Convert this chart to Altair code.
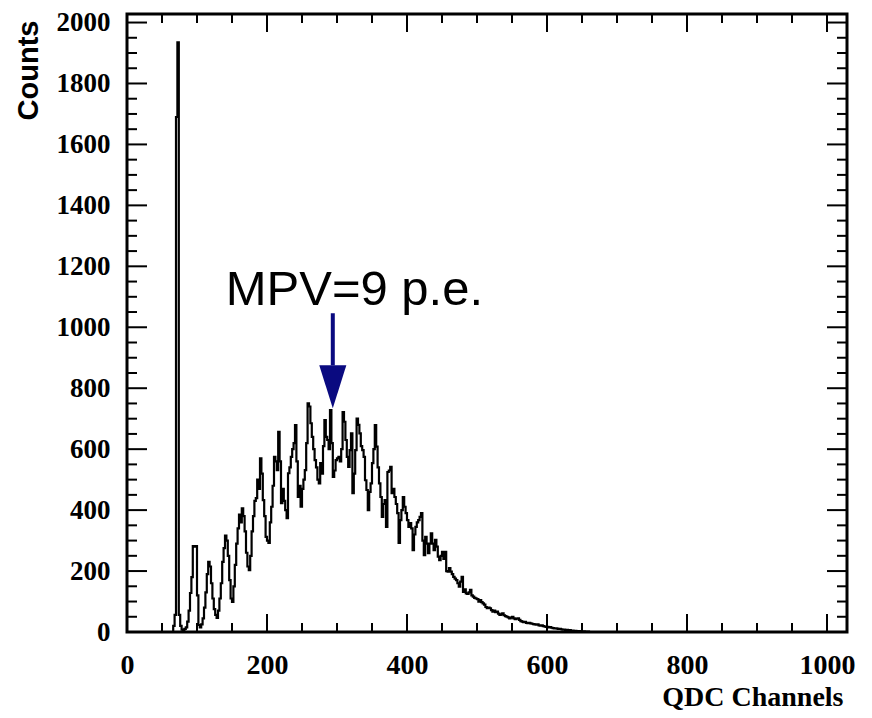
import altair as alt
import pandas as pd

# ---------------- data ----------------
FIRST_CHANNEL = 60      # lower edge of first listed bin
BIN_WIDTH = 2           # channels per bin
X_MAX = 1028.6
Y_MAX = 2028

COUNTS = [
    0, 0, 0, 20, 56, 1690, 1935, 56, 20, 8,
    5, 10, 15, 34, 70, 128, 180, 282, 280, 282,
    120, 23, 15, 25, 45, 80, 130, 190, 230, 215,
    160, 110, 75, 56, 46, 70, 110, 160, 230, 275,
    316, 300, 250, 170, 110, 99, 150, 220, 290, 340,
    385, 360, 406, 380, 330, 260, 215, 203, 250, 330,
    380, 430, 439, 500, 470, 570, 520, 433, 380, 312,
    300, 292, 360, 411, 480, 575, 560, 531, 657, 560,
    423, 470, 430, 400, 374, 521, 540, 575, 600, 620,
    679, 560, 443, 480, 411, 470, 500, 531, 620, 750,
    740, 685, 640, 600, 564, 540, 500, 488, 554, 520,
    610, 695, 640, 630, 600, 728, 620, 509, 530, 564,
    570, 575, 560, 600, 722, 690, 630, 575, 542, 597,
    652, 456, 520, 597, 700, 680, 652, 610, 597, 575,
    498, 466, 400, 460, 488, 554, 600, 679, 608, 540,
    488, 443, 378, 420, 433, 345, 525, 530, 542, 456,
    470, 443, 420, 390, 292, 367, 400, 443, 411, 390,
    367, 345, 357, 340, 269, 320, 345, 360, 367, 378,
    390, 300, 252, 312, 290, 259, 290, 324, 290, 269,
    302, 280, 247, 236, 250, 263, 240, 263, 200, 198,
    210, 198, 190, 181, 175, 170, 160, 149, 165, 181,
    132, 140, 127, 125, 130, 138, 120, 116, 112, 110,
    108, 100, 105, 98, 94, 90, 82, 78, 80, 78,
    72, 67, 70, 65, 67, 60, 56, 58, 61, 55,
    52, 50, 48, 45, 47, 50, 45, 42, 44, 45,
    40, 36, 34, 32, 33, 30, 29, 30, 28, 27,
    26, 25, 24, 25, 22, 21, 22, 19, 18, 17,
    17, 15, 16, 14, 13, 12, 12, 11, 10, 10,
    9, 8, 8, 7, 7, 6, 6, 5, 5, 4,
    4, 3, 3, 3, 2, 2, 2, 1, 1, 1,
]

X_MAJOR = [0, 200, 400, 600, 800, 1000]
X_MINOR = [50, 100, 150, 250, 300, 350, 450, 500, 550, 650, 700, 750, 850, 900, 950]
Y_MAJOR = [0, 200, 400, 600, 800, 1000, 1200, 1400, 1600, 1800, 2000]
Y_MINOR = [50, 100, 150, 250, 300, 350, 450, 500, 550, 650, 700, 750, 850, 900, 950,
           1050, 1100, 1150, 1250, 1300, 1350, 1450, 1500, 1550, 1650, 1700, 1750,
           1850, 1900, 1950]

ANNOT_TEXT = ["MPV=9 p.e."]
ANNOT_TEXT_X = [141]
ANNOT_TEXT_Y = [1072]
ARROW_X = [294]
ARROW_TOP = [1046]
ARROW_BASE = [875]
ARROW_HEAD_Y = [805]

# ---------------- layout ----------------
W, H = 720, 618
SERIF = "Liberation Serif"
SANS = "Liberation Sans"
NAVY = "#0a0a80"

edges = [0] + [FIRST_CHANNEL + BIN_WIDTH * i for i in range(len(COUNTS))] + \
        [FIRST_CHANNEL + BIN_WIDTH * len(COUNTS), X_MAX]
vals = [0] + COUNTS + [0, 0]
hist_df = pd.DataFrame({"ch": edges, "n": vals})

xscale = alt.Scale(domain=[0, X_MAX], nice=False, zero=False)
yscale = alt.Scale(domain=[0, Y_MAX], nice=False, zero=False)

x_axis = alt.Axis(values=X_MAJOR, format="d", domain=False, ticks=False, tickSize=0, grid=False,
                  labelFont=SERIF, labelFontWeight="bold", labelFontSize=28, labelColor="black",
                  labelPadding=19, labelFlush=False, labelOverlap=False,
                  title="QDC Channels", titleFont=SERIF, titleFontWeight="bold", titleFontSize=28,
                  titleColor="black", titleX=W - 4, titleY=73, titleAlign="right",
                  titleBaseline="alphabetic")
y_axis = alt.Axis(values=Y_MAJOR, format="d", domain=False, ticks=False, tickSize=0, grid=False,
                  labelFont=SERIF, labelFontWeight="bold", labelFontSize=27, labelColor="black",
                  labelPadding=17, labelFlush=False, labelOverlap=False,
                  title="Counts", titleFont=SANS, titleFontWeight="bold", titleFontSize=29,
                  titleColor="black", titleAngle=270, titleX=-90, titleY=6, titleAlign="right",
                  titleBaseline="alphabetic")


def X(field):
    return alt.X(field, type="quantitative", scale=xscale, axis=x_axis)


def Y(field):
    return alt.Y(field, type="quantitative", scale=yscale, axis=y_axis)


hist = alt.Chart(hist_df).mark_line(interpolate="step-after", color="black", strokeWidth=2.2).encode(
    x=X("ch"), y=Y("n"))


def xticks(values, length):
    d = pd.DataFrame({"ch": values})
    base = alt.Chart(d).mark_rule(color="black", strokeWidth=2)
    bottom = base.encode(x=X("ch"), y=alt.value(H), y2=alt.value(H - length))
    top = base.encode(x=X("ch"), y=alt.value(0), y2=alt.value(length))
    return [bottom, top]


def yticks(values, length):
    d = pd.DataFrame({"n": values})
    base = alt.Chart(d).mark_rule(color="black", strokeWidth=2)
    left = base.encode(y=Y("n"), x=alt.value(0), x2=alt.value(length))
    right = base.encode(y=Y("n"), x=alt.value(W), x2=alt.value(W - length))
    return [left, right]


tick_layers = xticks(X_MINOR, 9) + xticks(X_MAJOR, 18) + yticks(Y_MINOR, 10) + yticks(Y_MAJOR, 20)

annot_df = pd.DataFrame({"t": ANNOT_TEXT, "x": ANNOT_TEXT_X, "y": ANNOT_TEXT_Y})
arrow_df = pd.DataFrame({"x": ARROW_X, "top": ARROW_TOP, "base": ARROW_BASE, "head": ARROW_HEAD_Y})

text = alt.Chart(annot_df).mark_text(align="left", baseline="alphabetic", font=SANS, fontSize=49,
                                     color="black").encode(x=X("x"), y=Y("y"), text="t:N")
shaft = alt.Chart(arrow_df).mark_rule(color=NAVY, strokeWidth=4).encode(
    x=X("x"), y=Y("top"), y2="base:Q")
head = alt.Chart(arrow_df).mark_point(shape="M -0.63 -1 L 0.63 -1 L 0 1 Z", size=1849, filled=True,
                                      opacity=1, color=NAVY, strokeWidth=0).encode(
    x=X("x"), y=Y("head"))

chart = alt.layer(hist, *tick_layers, shaft, head, text).properties(
    width=W, height=H,
    autosize=alt.AutoSizeParams(type="none"),
    padding={"left": 119, "top": 6, "right": 17, "bottom": 78},
    background="white",
).configure_view(stroke="black", strokeWidth=3)

chart.save("out.html", embed_options={"renderer": "svg", "actions": False})
